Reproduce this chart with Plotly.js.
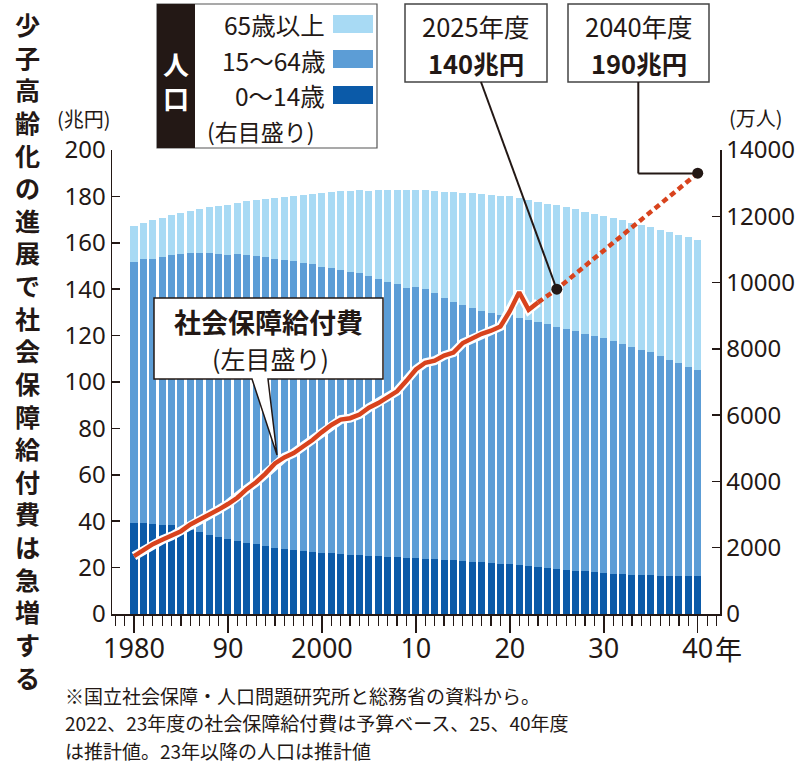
<!DOCTYPE html>
<html><head><meta charset="utf-8">
<script src="https://cdn.plot.ly/plotly-3.0.1.min.js"></script>
<style>body{margin:0;background:#fff}#chart{width:800px;height:768px}</style>
</head><body><div id="chart"></div>
<script>
// ---- data ----
const years = [1980,1981,1982,1983,1984,1985,1986,1987,1988,1989,
  1990,1991,1992,1993,1994,1995,1996,1997,1998,1999,
  2000,2001,2002,2003,2004,2005,2006,2007,2008,2009,
  2010,2011,2012,2013,2014,2015,2016,2017,2018,2019,
  2020,2021,2022,2023,2024,2025,2026,2027,2028,2029,
  2030,2031,2032,2033,2034,2035,2036,2037,2038,2039,2040];
const age0_14 = [2751,2760,2723,2700,2675,2603,2543,2460,2374,2320,
  2249,2204,2150,2103,2058,2001,1969,1937,1906,1874,
  1847,1828,1810,1791,1773,1759,1744,1729,1718,1701,
  1684,1671,1655,1639,1623,1589,1578,1559,1542,1521,
  1503,1478,1450,1417,1390,1363,1335,1308,1283,1260,
  1240,1220,1203,1189,1178,1169,1161,1155,1150,1146,1142];
const age15_64 = [7884,7937,8002,8070,8150,8251,8336,8422,8505,8545,
  8590,8656,8690,8702,8703,8717,8716,8704,8692,8676,
  8638,8614,8571,8540,8508,8442,8373,8301,8230,8149,
  8173,8134,8018,7901,7785,7728,7656,7596,7545,7507,
  7509,7450,7421,7395,7353,7310,7270,7227,7178,7128,
  7076,7009,6941,6870,6797,6722,6618,6515,6413,6313,6213];
const age65plus = [1071,1093,1148,1184,1206,1251,1287,1342,1399,1460,
  1493,1550,1617,1689,1766,1839,1901,1976,2051,2117,
  2208,2290,2368,2438,2498,2576,2673,2773,2860,2930,
  2949,2978,3086,3201,3316,3392,3459,3516,3557,3589,
  3603,3622,3624,3623,3637,3653,3663,3672,3682,3691,
  3696,3715,3731,3747,3760,3773,3811,3846,3877,3903,3929];
const spendYears = [1980,1981,1982,1983,1984,1985,1986,1987,1988,1989,
  1990,1991,1992,1993,1994,1995,1996,1997,1998,1999,
  2000,2001,2002,2003,2004,2005,2006,2007,2008,2009,
  2010,2011,2012,2013,2014,2015,2016,2017,2018,2019,
  2020,2021,2022,2023];
const spendValues = [24.9,27.6,30.1,32.0,33.6,35.7,38.6,40.7,42.4,45.0,
  47.4,50.1,53.8,56.8,60.5,64.9,67.5,69.4,72.2,75.0,
  78.4,81.5,83.8,84.4,86.0,88.9,90.9,93.6,96.0,100.5,
  105.4,108.3,109.2,111.4,112.7,116.8,118.9,120.8,122.1,123.9,
  130.5,138.7,131.1,134.3];
const projYears = [2023,2025,2040];
const projValues = [134.3,140,190];
const markerYears = [2025,2040];
const markerValues = [140,190];
const xTickVals = [1980,1990,2000,2010,2020,2030,2040];
const xTickText = ['1980','90','2000','10','20','30','40'];
const legendLabels = ['65歳以上','15～64歳','0～14歳'];
const titleText = '少子高齢化の進展で社会保障給付費は急増する';
const footLines = ['※国立社会保障・人口問題研究所と総務省の資料から。',
  '2022、23年度の社会保障給付費は予算ベース、25、40年度',
  'は推計値。23年以降の人口は推計値'];

// ---- style ----
const C_OLD='#a8daf4', C_WORK='#5c9dd6', C_YOUNG='#0b5aa8', C_RED='#d8431d', INK='#231815';
const JP='"Noto Sans CJK JP", "Noto Sans", sans-serif';
const NUM='"Noto Sans", "Noto Sans CJK JP", sans-serif';
const L=112,R=720,T=150,B=614;
const X=px=>(px-L)/(R-L), Y=py=>(B-py)/(B-T);

const traces = [
  {type:'bar', x:years, y:age0_14, name:legendLabels[2], marker:{color:C_YOUNG}, yaxis:'y', hoverinfo:'skip'},
  {type:'bar', x:years, y:age15_64, name:legendLabels[1], marker:{color:C_WORK}, yaxis:'y', hoverinfo:'skip'},
  {type:'bar', x:years, y:age65plus, name:legendLabels[0], marker:{color:C_OLD}, yaxis:'y', hoverinfo:'skip'},
  {type:'scatter', mode:'lines', x:spendYears, y:spendValues, yaxis:'y2', line:{color:'#ffffff', width:9}, hoverinfo:'skip'},
  {type:'scatter', mode:'lines', x:spendYears, y:spendValues, yaxis:'y2', line:{color:C_RED, width:4.5}, hoverinfo:'skip'},
  {type:'scatter', mode:'lines', x:projYears, y:projValues, yaxis:'y2', line:{color:C_RED, width:4.5, dash:'6px,4px'}, hoverinfo:'skip'},
  {type:'scatter', mode:'markers', x:markerYears, y:markerValues, yaxis:'y2', marker:{color:INK, size:11}, hoverinfo:'skip'}
];

const shapes = [];
const annotations = [];
function rect(x0,y0,x1,y1,fill,lc,lw){shapes.push({type:'rect',xref:'paper',yref:'paper',x0:X(x0),x1:X(x1),y0:Y(y1),y1:Y(y0),fillcolor:fill,line:{color:lc||fill,width:lw===undefined?0:lw},layer:'above'});}
function seg(x0,y0,x1,y1,lw){shapes.push({type:'line',xref:'paper',yref:'paper',x0:X(x0),x1:X(x1),y0:Y(y0),y1:Y(y1),line:{color:INK,width:lw||2},layer:'above'});}
function txt(t,x,y,size,opts){annotations.push(Object.assign({text:t,xref:'paper',yref:'paper',x:X(x),y:Y(y),showarrow:false,xanchor:'center',yanchor:'middle',borderpad:0,font:{family:JP,size:size,color:INK}},opts||{}));}

// legend box
rect(157,4,377,148,'#ffffff','#555555',1.2);
rect(157,4,195,148,INK);
rect(333,15,373,33,C_OLD);
rect(333,50,373,68,C_WORK);
rect(333,86,373,104,C_YOUNG);
txt('<b>人<br>口</b>',176,81,26,{font:{family:JP,size:26,color:'#ffffff'}});
txt(legendLabels[0],326,24,24.5,{xanchor:'right'});
txt(legendLabels[1],326,60,24.5,{xanchor:'right'});
txt(legendLabels[2],326,96,24.5,{xanchor:'right'});
txt('(右目盛り)',206,131,23,{xanchor:'left'});

// top boxes
rect(405,4,547,82,'#ffffff','#444444',1.5);
rect(568,4,709,82,'#ffffff','#444444',1.5);
txt('2025年度',476,25,25.5);
txt('<b>140兆円</b>',476,62.5,25.5);
txt('2040年度',638.5,25,25.5);
txt('<b>190兆円</b>',638.5,62.5,25.5);
seg(481,82,556.8,289.5,2);
seg(638.3,82,638.3,173.5,2);
seg(638.3,173.5,698,173.5,2);

// callout
const p = (a,b)=>X(a)+' '+Y(b);
shapes.push({type:'path',xref:'paper',yref:'paper',layer:'above',fillcolor:'#ffffff',line:{color:INK,width:1.5},
  path:'M '+p(154,298)+' L '+p(383,298)+' L '+p(383,379)+' L '+p(268,379)+' L '+p(277,455)+' L '+p(252,379)+' L '+p(154,379)+' Z'});
txt('<b>社会保障給付費</b>',268.5,321,27);
txt('(左目盛り)',270,358,25);

// axis unit labels
txt('(兆円)',84,118,20);
txt('(万人)',756,117,20);
txt('年',728,648,27);

// title, vertical (one text, one character per line)
txt('<b>'+Array.from(titleText).join('<br>')+'</b>',27,350,25.1,{yanchor:'middle'});

// footnotes
txt(footLines[0],64,695,19,{xanchor:'left'});
txt(footLines[1],64,722.5,19,{xanchor:'left'});
txt(footLines[2],64,750,19,{xanchor:'left'});

const layout = {
  width:800, height:768,
  margin:{l:L, r:800-R, t:T, b:768-B, pad:0},
  paper_bgcolor:'#ffffff', plot_bgcolor:'#ffffff',
  barmode:'stack', bargap:0.25,
  showlegend:false,
  xaxis:{range:[1977.66,2042.37], tickmode:'array', tickvals:xTickVals, ticktext:xTickText,
    ticks:'outside', ticklen:17, tickwidth:1.5, tickcolor:INK, ticklabelstandoff:-7,
    showline:true, linecolor:INK, linewidth:1.5, showgrid:false, zeroline:false,
    tickfont:{family:NUM, size:27, color:INK},
    minor:{tickmode:'linear', tick0:1980, dtick:1, ticks:'outside', ticklen:10, tickwidth:1.2, tickcolor:INK, showgrid:false}},
  yaxis:{range:[0,14000], side:'right', tickmode:'linear', tick0:0, dtick:2000, tickformat:'d',
    ticks:'inside', ticklen:8, tickwidth:1.5, tickcolor:INK,
    showline:true, linecolor:INK, linewidth:1.5, showgrid:false, zeroline:false,
    tickfont:{family:NUM, size:24, color:INK}},
  yaxis2:{range:[0,200], side:'left', overlaying:'y', tickmode:'linear', tick0:0, dtick:20,
    ticks:'inside', ticklen:8, tickwidth:1.5, tickcolor:INK,
    showline:true, linecolor:INK, linewidth:1.5, showgrid:false, zeroline:false,
    tickfont:{family:NUM, size:24, color:INK}},
  shapes:shapes, annotations:annotations
};
Plotly.newPlot('chart', traces, layout, {staticPlot:true, displayModeBar:false});
</script></body></html>
